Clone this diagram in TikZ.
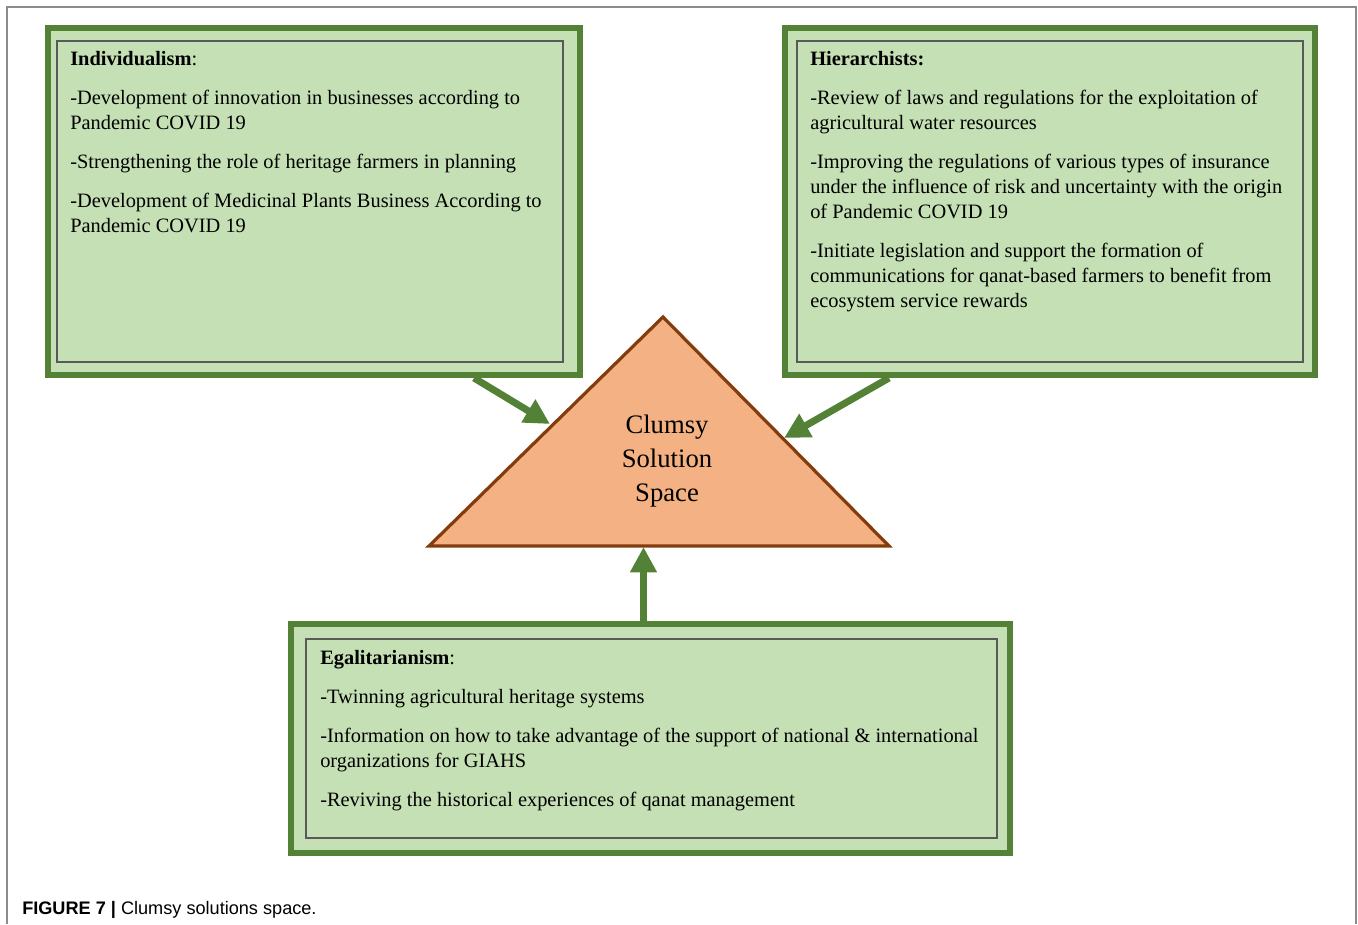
\documentclass[tikz,border=0pt]{standalone}
\usepackage{fontspec}
\setmainfont{Liberation Serif}
\newfontfamily\capfont{Liberation Sans}
\usetikzlibrary{arrows.meta}
\definecolor{gborder}{HTML}{538135}
\definecolor{gfill}{HTML}{C5E0B4}
\definecolor{tfill}{HTML}{F4B183}
\definecolor{tedge}{HTML}{843C0C}
\definecolor{frame}{HTML}{8C8C8C}
\newcommand{\bodyfont}{\fontsize{15.3pt}{18.75pt}\selectfont}
\tikzset{
  outerbox/.style={draw=gborder, fill=gfill, line width=4.5pt, inner sep=0pt},
  innerbox/.style={draw=black!65, line width=0.8pt, inner sep=0pt},
  bodytext/.style={anchor=base west, inner sep=0pt},
  garrow/.style={draw=gborder, line width=5.25pt, -{Triangle[length=19pt,width=19pt]}},
}
\begin{document}
\begin{tikzpicture}[x=0.75pt,y=-0.75pt]
\useasboundingbox (0,0) rectangle (1358,924);
% outer frame
\draw[frame, line width=1.2pt] (7,924) -- (7,7) -- (1356,7) -- (1356,924);
% boxes
\node[outerbox, minimum width=399pt, minimum height=260.25pt] (Lout) at (314,201.5) {};
\node[innerbox, minimum width=379.5pt, minimum height=240.75pt] (Lin) at (310,201.5) {};
\node[outerbox, minimum width=397.5pt, minimum height=260.25pt] (Rout) at (1050,201.5) {};
\node[innerbox, minimum width=379.5pt, minimum height=240.75pt] (Rin) at (1050,201.5) {};
\node[outerbox, minimum width=539.25pt, minimum height=171.75pt] (Bout) at (650.5,738.5) {};
\node[innerbox, minimum width=518.25pt, minimum height=149.25pt] (Bin) at (651.5,738.5) {};
% triangle
\coordinate (apex) at (663,317);
\coordinate (bl) at (429,546);
\coordinate (br) at (889,546);
\draw[tedge, fill=tfill, line width=2.4pt, line join=miter] (apex) -- (bl) -- (br) -- cycle;
\node[align=center, inner sep=0pt, font=\fontsize{20pt}{25.5pt}\selectfont] (T) at (667,461) {Clumsy\\Solution\\Space};
% arrows
\coordinate (la0) at (474,378);
\coordinate (la1) at (550,424);
\coordinate (ra0) at (889,378);
\coordinate (ra1) at (784,438);
\coordinate (ba0) at (643.5,622);
\coordinate (ba1) at (643.5,547);
\draw[garrow] (la0) -- (la1);
\draw[garrow] (ra0) -- (ra1);
\draw[garrow] (ba0) -- (ba1);
% texts
\node[bodytext] (Ltxt) at (70,65) {\bodyfont\begin{tabular}[t]{@{}l@{}}\textbf{Individualism}:\\[10.5pt]
-Development of innovation in businesses according to\\
Pandemic COVID 19\\[10.5pt]
-Strengthening the role of heritage farmers in planning\\[10.5pt]
-Development of Medicinal Plants Business According to\\
Pandemic COVID 19\end{tabular}};
\node[bodytext] (Rtxt) at (810,65) {\bodyfont\begin{tabular}[t]{@{}l@{}}\textbf{Hierarchists:}\\[10.5pt]
-Review of laws and regulations for the exploitation of\\
agricultural water resources\\[10.5pt]
-Improving the regulations of various types of insurance\\
under the influence of risk and uncertainty with the origin\\
of Pandemic COVID 19\\[10.5pt]
-Initiate legislation and support the formation of\\
communications for qanat-based farmers to benefit from\\
ecosystem service rewards\end{tabular}};
\node[bodytext] (Btxt) at (320,664) {\bodyfont\begin{tabular}[t]{@{}l@{}}\textbf{Egalitarianism}:\\[10.5pt]
-Twinning agricultural heritage systems\\[10.5pt]
-Information on how to take advantage of the support of national \& international\\
organizations for GIAHS\\[10.5pt]
-Reviving the historical experiences of qanat management\end{tabular}};
% caption
\node[anchor=base west, inner sep=0pt, font=\capfont\fontsize{13.6pt}{15pt}\selectfont] (cap) at (22,914) {\textbf{FIGURE 7 |} Clumsy solutions space.};
\end{tikzpicture}
\end{document}
